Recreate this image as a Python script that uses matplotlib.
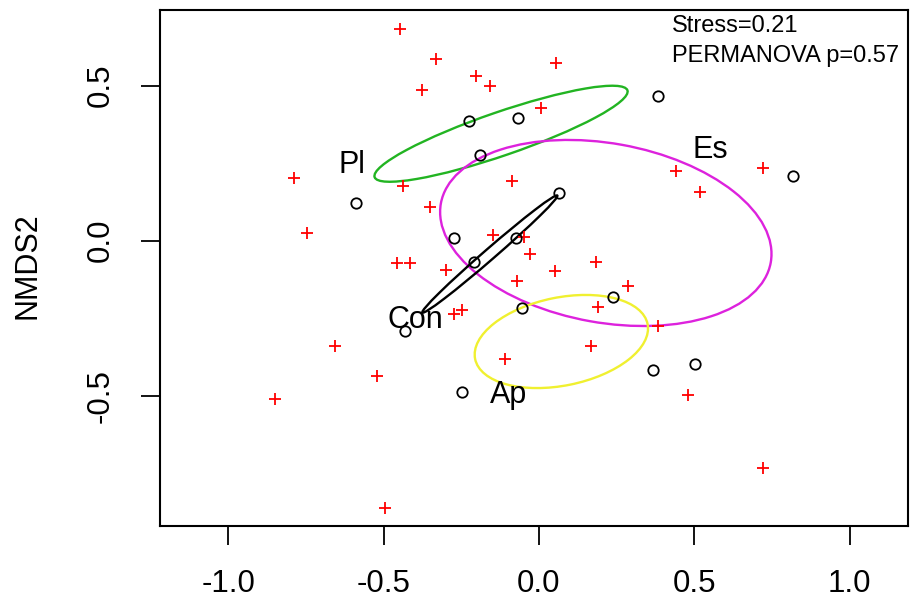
import matplotlib
matplotlib.use("Agg")
import matplotlib.pyplot as plt
from matplotlib.patches import Ellipse

plt.rcParams['font.family'] = ['Liberation Sans', 'DejaVu Sans']

# species scores (red +)
sp_x = [-0.447, -0.332, -0.203, -0.158, -0.375, 0.054, 0.006, -0.788, -0.436, -0.086,
        -0.350, -0.745, -0.149, -0.048, -0.029, -0.458, -0.415, -0.299, 0.051, 0.183,
        -0.071, 0.287, 0.191, -0.273, -0.249, 0.382, 0.166, -0.109, -0.656, -0.522,
        -0.849, -0.494, 0.478, 0.721, 0.440, 0.518, 0.721]
sp_y = [0.682, 0.585, 0.531, 0.499, 0.486, 0.574, 0.429, 0.201, 0.178, 0.194,
        0.110, 0.026, 0.018, 0.011, -0.043, -0.073, -0.073, -0.095, -0.098, -0.070,
        -0.130, -0.145, -0.214, -0.236, -0.222, -0.275, -0.340, -0.383, -0.340, -0.435,
        -0.512, -0.861, -0.498, -0.734, 0.225, 0.158, 0.235]

# site scores (black circles)
site_x = [-0.225, -0.066, -0.190, 0.384, -0.589, 0.064, 0.818, -0.273, -0.075, -0.208,
          0.239, -0.054, -0.431, -0.249, 0.366, 0.502]
site_y = [0.387, 0.395, 0.276, 0.468, 0.121, 0.153, 0.210, 0.010, 0.010, -0.069,
          -0.183, -0.218, -0.290, -0.489, -0.417, -0.397]

# group ellipses: centre, width, height, angle
groups = ['Pl', 'Es', 'Con', 'Ap']
ell_cx = [-0.122, 0.215, -0.158, 0.072]
ell_cy = [0.345, 0.025, -0.043, -0.325]
ell_w = [0.86, 1.078, 0.575, 0.566]
ell_h = [0.14, 0.578, 0.035, 0.284]
ell_ang = [19.0, -10.2, 41.0, 11.5]
ell_col = ['#22B422', '#DD22DD', 'black', '#F0F030']
lab_x = [-0.600, 0.550, -0.399, -0.099]
lab_y = [0.244, 0.293, -0.256, -0.498]

fig = plt.figure(figsize=(9.1, 6.11), dpi=100)
ax = fig.add_axes([0.1758, 0.1396, 0.822, 0.844])

for cx, cy, w, h, a, c in zip(ell_cx, ell_cy, ell_w, ell_h, ell_ang, ell_col):
    ax.add_patch(Ellipse((cx, cy), w, h, angle=a, fill=False, edgecolor=c, lw=1.7))

ax.plot(sp_x, sp_y, '+', color='red', ms=8, mew=1.3, ls='none')
ax.plot(site_x, site_y, 'o', mfc='none', mec='black', ms=7.5, mew=1.3, ls='none')

for g, x, y in zip(groups, lab_x, lab_y):
    ax.text(x, y, g, fontsize=22, ha='center', va='center')

ax.text(0.428, 0.673, 'Stress=0.21', fontsize=17, ha='left', va='baseline')
ax.text(0.428, 0.576, 'PERMANOVA p=0.57', fontsize=17, ha='left', va='baseline')

ax.set_xlim(-1.219, 1.187)
ax.set_ylim(-0.919, 0.744)
ax.set_xticks([-1.0, -0.5, 0.0, 0.5, 1.0])
ax.set_xticklabels(['-1.0', '-0.5', '0.0', '0.5', '1.0'])
ax.set_yticks([-0.5, 0.0, 0.5])
ax.set_yticklabels(['-0.5', '0.0', '0.5'], rotation=90, va='center')
ax.tick_params(axis='x', length=14, width=1.3, labelsize=22.5, pad=17)
ax.tick_params(axis='y', length=14, width=1.3, labelsize=22.5, pad=18)
for s in ax.spines.values():
    s.set_linewidth(1.5)

fig.text(28 / 910, 1 - 266 / 611, 'NMDS2', fontsize=22, rotation=90, ha='center', va='center')

fig.savefig('out.png', dpi=100)
